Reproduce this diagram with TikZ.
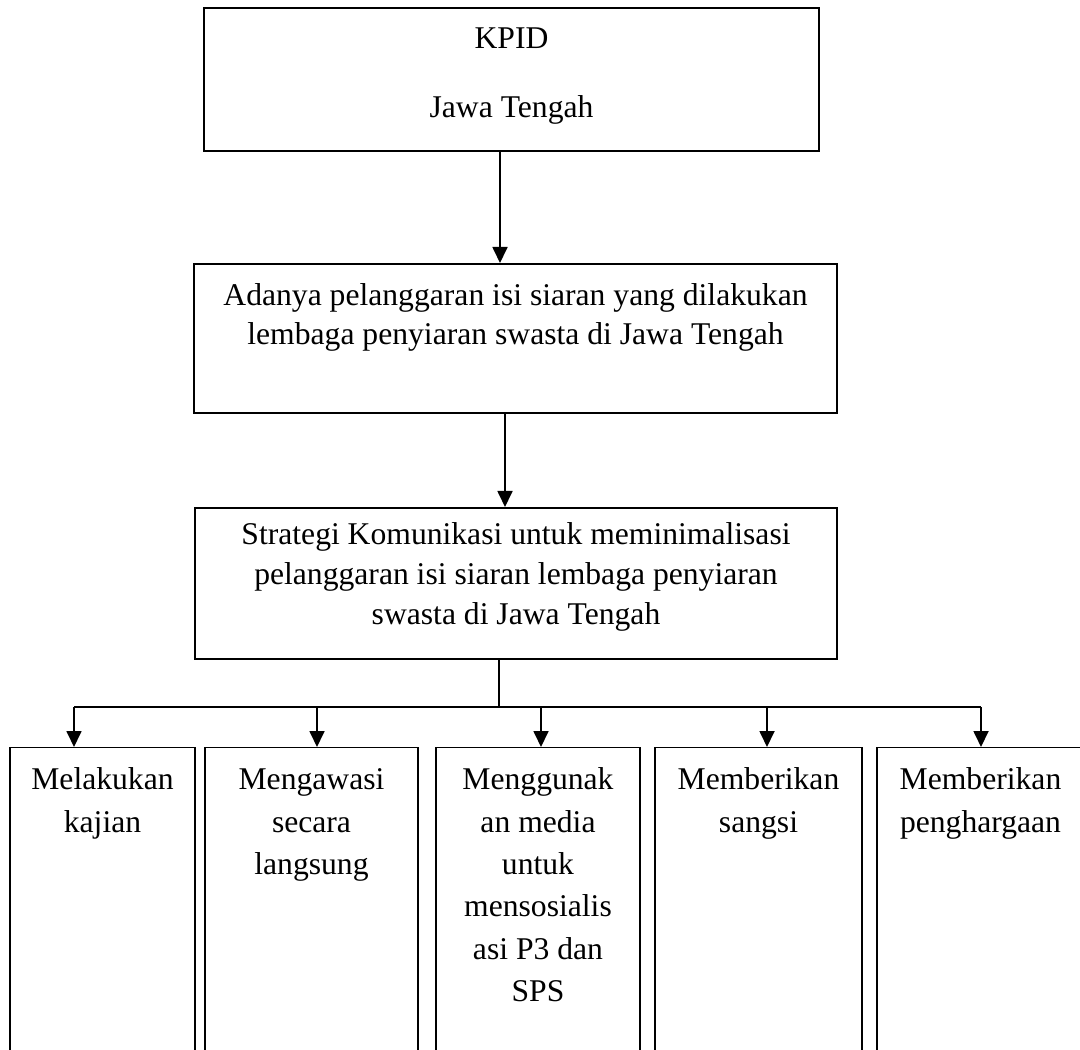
\documentclass[tikz,border=0pt]{standalone}
\usepackage{fontspec}
\setmainfont{Liberation Serif}
\usepackage{tikz}
\usetikzlibrary{arrows.meta}
\newcommand{\kotak}[4]{\parbox[c][#2][t]{#1}{\centering\rule{0pt}{#3}#4}}

\begin{document}
\begin{tikzpicture}[auto,
    box/.style={draw, line width=1.1pt, inner sep=0pt, anchor=north},
    sub/.style={draw, line width=0.8pt, inner sep=0pt, anchor=north, font=\fontsize{18}{24.1}\selectfont},
    >={Triangle[length=3.2mm,width=3mm]}]
    \useasboundingbox (0,0) rectangle (21.6,20.98);
    \clip (0,0) rectangle (21.6,20.98);
    \node [box, font=\fontsize{18}{22.5}\selectfont] (a) at (10.23, 20.84) {\kotak{12.3cm}{2.86cm}{0.82cm}{KPID\\[0.59cm]Jawa Tengah}};
    \node [box, font=\fontsize{18}{22.1}\selectfont] (b) at (10.31, 15.72) {\kotak{12.86cm}{2.98cm}{0.84cm}{Adanya pelanggaran isi siaran yang dilakukan\\lembaga penyiaran swasta di Jawa Tengah}};
    \node [box, font=\fontsize{18}{22.7}\selectfont] (c) at (10.32, 10.84) {\kotak{12.84cm}{3.02cm}{0.74cm}{Strategi Komunikasi untuk meminimalisasi\\pelanggaran isi siaran lembaga penyiaran\\swasta di Jawa Tengah}};
    \node [sub] (d) at (2.05, 6.04) {\kotak{3.7cm}{6.5cm}{0.84cm}{Melakukan\\kajian}};
    \node [sub] (e) at (6.23, 6.04) {\kotak{4.26cm}{6.5cm}{0.84cm}{Mengawasi\\secara\\langsung}};
    \node [sub] (f) at (10.76, 6.04) {\kotak{4.08cm}{6.5cm}{0.84cm}{Menggunak\\an media\\untuk\\mensosialis\\asi P3 dan\\SPS}};
    \node [sub] (g) at (15.17, 6.04) {\kotak{4.14cm}{6.5cm}{0.84cm}{Memberikan\\sangsi}};
    \node [sub] (h) at (19.61, 6.04) {\kotak{4.14cm}{6.5cm}{0.84cm}{Memberikan\\penghargaan}};
    \coordinate (p) at (10.0, 0);
    \coordinate (q) at (10.1, 0);
    \coordinate (k) at (9.98, 6.84);
    \coordinate (j1) at (1.48, 6.84);
    \coordinate (j2) at (6.34, 6.84);
    \coordinate (j3) at (10.82, 6.84);
    \coordinate (j4) at (15.34, 6.84);
    \coordinate (j5) at (19.62, 6.84);
    \draw [->, line width=1pt] (p |- a.south) -- (p |- b.north);
    \draw [->, line width=1pt] (q |- b.south) -- (q |- c.north);
    \draw [line width=1pt] (k |- c.south) -- (k);
    \draw [line width=1pt] (j1) -- (j5);
    \draw [->, line width=1pt] (j1) -- (j1 |- d.north);
    \draw [->, line width=1pt] (j2) -- (j2 |- e.north);
    \draw [->, line width=1pt] (j3) -- (j3 |- f.north);
    \draw [->, line width=1pt] (j4) -- (j4 |- g.north);
    \draw [->, line width=1pt] (j5) -- (j5 |- h.north);
  \end{tikzpicture}
\end{document}
